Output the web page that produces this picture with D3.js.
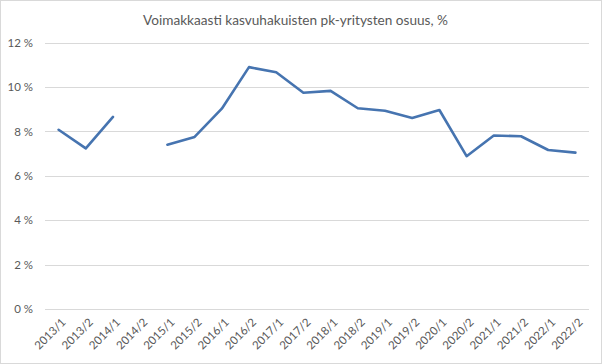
<!DOCTYPE html>
<html><head><meta charset="utf-8">
<script src="https://cdn.jsdelivr.net/npm/d3@7"></script>
<style>body{margin:0;background:#fff;}svg{display:block;}</style>
</head><body>
<svg id="c" width="602" height="364"></svg>
<script>
const categories = ["2013/1","2013/2","2014/1","2014/2","2015/1","2015/2","2016/1","2016/2","2017/1","2017/2","2018/1","2018/2","2019/1","2019/2","2020/1","2020/2","2021/1","2021/2","2022/1","2022/2"];
const values = [8.07,7.23,8.65,null,7.4,7.75,9.02,10.89,10.66,9.74,9.82,9.04,8.93,8.6,8.96,6.88,7.81,7.78,7.16,7.04];
const yTicks = [0,2,4,6,8,10,12];
const title = "Voimakkaasti kasvuhakuisten pk-yritysten osuus, %";

const svg = d3.select("#c");
svg.append("rect").attr("x",0.5).attr("y",0.5).attr("width",601).attr("height",363)
  .attr("fill","#fff").attr("stroke","#d9d9d9");

const m = {left:45, right:589, top:42.5, bottom:309};
const x = d3.scaleBand().domain(categories).range([m.left,m.right]);
const y = d3.scaleLinear().domain([0,12]).range([m.bottom,m.top]);

// gridlines
svg.append("g").selectAll("line").data(yTicks).join("line")
  .attr("x1",m.left).attr("x2",m.right)
  .attr("y1",d=>Math.round(y(d))+0.5).attr("y2",d=>Math.round(y(d))+0.5)
  .attr("stroke","#d9d9d9").attr("stroke-width",1);

// y axis labels
const yAxis = d3.axisLeft(y).tickValues(yTicks).tickSize(0).tickPadding(0).tickFormat(d=>d+" %");
const ya = svg.append("g").attr("transform",`translate(${m.left-12},0)`).call(yAxis);
ya.select(".domain").remove();
ya.selectAll("text").attr("font-family","Lato, 'Open Sans', sans-serif").attr("font-size",11.5).attr("fill","#595959");

// x axis labels
const xAxis = d3.axisBottom(x).tickSize(0).tickPadding(0);
const xa = svg.append("g").attr("transform",`translate(0,${m.bottom})`).call(xAxis);
xa.select(".domain").remove();
xa.selectAll("text")
  .attr("font-family","Lato, 'Open Sans', sans-serif").attr("font-size",11.5).attr("fill","#595959")
  .attr("text-anchor","end").attr("dy",0).attr("y",0)
  .attr("transform","translate(8,14) rotate(-45)");

// line
const line = d3.line().defined(d=>d.v!=null)
  .x(d=>x(d.c)+x.bandwidth()/2).y(d=>y(d.v));
svg.append("path").datum(categories.map((c,i)=>({c,v:values[i]})))
  .attr("d",line).attr("fill","none").attr("stroke","#4674b0").attr("stroke-width",2.6)
  .attr("stroke-linejoin","round").attr("stroke-linecap","round");

// title
svg.append("text").attr("x",295.5).attr("y",24.5).attr("text-anchor","middle")
  .attr("font-family","Lato, 'Open Sans', sans-serif").attr("font-size",14).attr("fill","#595959")
  .attr("textLength",305).attr("lengthAdjust","spacingAndGlyphs")
  .text(title);
</script>
</body></html>
